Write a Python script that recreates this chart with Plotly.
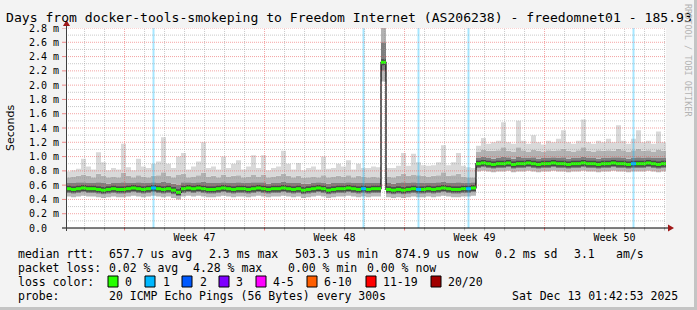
import plotly.graph_objects as go
import pandas as pd

# ---------------- data ----------------
TITLE = "Days from docker-tools-smokeping to Freedom Internet (AS206238) - freedomnet01 - 185.93"
START = "2025-11-13 01:42:53"
END = "2025-12-13 01:42:53"
STEP_HOURS = 6

median_ms = [
    0.55, 0.54, 0.55, 0.56, 0.55, 0.55, 0.54, 0.53, 0.54, 0.55,
    0.54, 0.54, 0.55, 0.56, 0.55, 0.54, 0.55, 0.56, 0.55, 0.54,
    0.55, 0.53, 0.50, 0.55, 0.56, 0.55, 0.56, 0.55, 0.54, 0.54,
    0.55, 0.56, 0.55, 0.54, 0.55, 0.55, 0.54, 0.55, 0.56, 0.55,
    0.54, 0.55, 0.55, 0.56, 0.55, 0.54, 0.55, 0.53, 0.54, 0.55,
    0.56, 0.55, 0.53, 0.54, 0.55, 0.55, 0.56, 0.55, 0.54, 0.55,
    0.54, 0.55, 0.55, 2.32, 0.54, 0.53, 0.54, 0.53, 0.54, 0.55,
    0.54, 0.54, 0.55, 0.54, 0.55, 0.56, 0.55, 0.54, 0.54, 0.55,
    0.55, 0.56, 0.90, 0.91, 0.90, 0.89, 0.90, 0.90, 0.91, 0.89,
    0.90, 0.90, 0.91, 0.90, 0.89, 0.90, 0.90, 0.91, 0.90, 0.90,
    0.89, 0.90, 0.90, 0.91, 0.90, 0.90, 0.89, 0.90, 0.90, 0.91,
    0.90, 0.90, 0.89, 0.90, 0.90, 0.90, 0.91, 0.90, 0.89, 0.90,
]
smoke_min = [
    0.44, 0.43, 0.44, 0.45, 0.44, 0.44, 0.43, 0.42, 0.43, 0.44,
    0.43, 0.43, 0.44, 0.45, 0.44, 0.43, 0.44, 0.45, 0.44, 0.43,
    0.44, 0.42, 0.40, 0.44, 0.45, 0.44, 0.45, 0.44, 0.43, 0.43,
    0.44, 0.45, 0.44, 0.43, 0.44, 0.44, 0.43, 0.44, 0.45, 0.44,
    0.43, 0.44, 0.44, 0.45, 0.44, 0.43, 0.44, 0.42, 0.43, 0.44,
    0.45, 0.44, 0.42, 0.43, 0.44, 0.44, 0.45, 0.44, 0.43, 0.44,
    0.43, 0.44, 0.44, 2.05, 0.43, 0.42, 0.43, 0.42, 0.43, 0.44,
    0.43, 0.43, 0.44, 0.43, 0.44, 0.45, 0.44, 0.43, 0.43, 0.44,
    0.44, 0.45, 0.79, 0.80, 0.79, 0.78, 0.79, 0.79, 0.80, 0.78,
    0.79, 0.79, 0.80, 0.79, 0.78, 0.79, 0.79, 0.80, 0.79, 0.79,
    0.78, 0.79, 0.79, 0.80, 0.79, 0.79, 0.78, 0.79, 0.79, 0.80,
    0.79, 0.79, 0.78, 0.79, 0.79, 0.79, 0.80, 0.79, 0.78, 0.79,
]
smoke_lo = [
    0.49, 0.48, 0.49, 0.50, 0.49, 0.49, 0.48, 0.47, 0.48, 0.49,
    0.48, 0.48, 0.49, 0.50, 0.49, 0.48, 0.49, 0.50, 0.49, 0.48,
    0.49, 0.47, 0.45, 0.49, 0.50, 0.49, 0.50, 0.49, 0.48, 0.48,
    0.49, 0.50, 0.49, 0.48, 0.49, 0.49, 0.48, 0.49, 0.50, 0.49,
    0.48, 0.49, 0.49, 0.50, 0.49, 0.48, 0.49, 0.47, 0.48, 0.49,
    0.50, 0.49, 0.47, 0.48, 0.49, 0.49, 0.50, 0.49, 0.48, 0.49,
    0.48, 0.49, 0.49, 2.20, 0.48, 0.47, 0.48, 0.47, 0.48, 0.49,
    0.48, 0.48, 0.49, 0.48, 0.49, 0.50, 0.49, 0.48, 0.48, 0.49,
    0.49, 0.50, 0.84, 0.85, 0.84, 0.83, 0.84, 0.84, 0.85, 0.83,
    0.84, 0.84, 0.85, 0.84, 0.83, 0.84, 0.84, 0.85, 0.84, 0.84,
    0.83, 0.84, 0.84, 0.85, 0.84, 0.84, 0.83, 0.84, 0.84, 0.85,
    0.84, 0.84, 0.83, 0.84, 0.84, 0.84, 0.85, 0.84, 0.83, 0.84,
]
smoke_hi = [
    0.63, 0.63, 0.64, 0.64, 0.63, 0.63, 0.64, 0.63, 0.62, 0.63,
    0.63, 0.64, 0.63, 0.63, 0.64, 0.63, 0.63, 0.64, 0.63, 0.65,
    0.63, 0.62, 0.61, 0.64, 0.64, 0.63, 0.64, 0.65, 0.63, 0.63,
    0.63, 0.64, 0.63, 0.63, 0.64, 0.63, 0.63, 0.64, 0.64, 0.64,
    0.62, 0.63, 0.63, 0.65, 0.63, 0.63, 0.63, 0.62, 0.62, 0.63,
    0.64, 0.63, 0.62, 0.63, 0.63, 0.63, 0.64, 0.63, 0.63, 0.63,
    0.63, 0.63, 0.63, 2.60, 0.63, 0.62, 0.63, 0.64, 0.63, 0.64,
    0.63, 0.63, 0.63, 0.63, 0.64, 0.65, 0.63, 0.63, 0.64, 0.63,
    0.63, 0.64, 0.98, 1.00, 0.98, 0.97, 0.98, 1.00, 0.99, 0.97,
    1.00, 0.98, 0.98, 0.99, 0.97, 0.98, 0.98, 0.99, 0.98, 0.99,
    0.97, 0.98, 0.98, 1.00, 0.98, 0.98, 0.97, 0.98, 0.98, 0.99,
    0.99, 0.98, 0.97, 0.98, 0.99, 0.98, 0.99, 0.98, 0.98, 0.98,
]
smoke_p90 = [
    0.71, 0.72, 0.73, 0.75, 0.73, 0.71, 0.76, 0.73, 0.71, 0.72,
    0.71, 0.77, 0.73, 0.71, 0.74, 0.72, 0.71, 0.73, 0.74, 0.78,
    0.73, 0.71, 0.75, 0.76, 0.71, 0.72, 0.74, 0.77, 0.72, 0.73,
    0.71, 0.75, 0.72, 0.73, 0.74, 0.71, 0.72, 0.75, 0.72, 0.75,
    0.71, 0.72, 0.73, 0.76, 0.73, 0.71, 0.73, 0.70, 0.71, 0.72,
    0.71, 0.74, 0.71, 0.72, 0.73, 0.72, 0.74, 0.71, 0.73, 0.72,
    0.71, 0.72, 0.71, 2.90, 0.72, 0.71, 0.73, 0.76, 0.73, 0.75,
    0.74, 0.73, 0.72, 0.73, 0.74, 0.78, 0.73, 0.74, 0.76, 0.72,
    0.71, 0.71, 1.07, 1.10, 1.08, 1.08, 1.09, 1.13, 1.08, 1.07,
    1.13, 1.09, 1.07, 1.10, 1.08, 1.07, 1.09, 1.08, 1.09, 1.11,
    1.08, 1.07, 1.09, 1.13, 1.08, 1.07, 1.09, 1.08, 1.09, 1.08,
    1.11, 1.09, 1.07, 1.09, 1.11, 1.08, 1.09, 1.07, 1.10, 1.08,
]
smoke_max = [
    0.79, 0.81, 0.83, 0.97, 0.86, 0.82, 1.06, 0.92, 0.81, 0.84,
    0.82, 1.18, 0.85, 0.81, 0.97, 0.86, 0.84, 0.90, 0.93, 1.27,
    0.90, 0.84, 1.00, 1.05, 0.82, 0.86, 0.93, 1.20, 0.84, 0.86,
    0.82, 1.00, 0.84, 0.90, 0.95, 0.82, 0.86, 1.02, 0.84, 1.02,
    0.81, 0.84, 0.86, 1.08, 0.90, 0.82, 0.91, 0.81, 0.84, 0.86,
    0.82, 1.00, 0.83, 0.84, 0.90, 0.86, 0.95, 0.82, 0.90, 0.84,
    0.84, 0.86, 0.85, 3.20, 0.84, 0.84, 0.87, 1.05, 0.87, 1.04,
    0.92, 0.88, 0.87, 0.88, 0.92, 1.16, 0.88, 0.92, 1.05, 0.87,
    0.85, 0.84, 1.15, 1.26, 1.18, 1.20, 1.22, 1.48, 1.20, 1.18,
    1.50, 1.22, 1.18, 1.30, 1.20, 1.17, 1.22, 1.20, 1.25, 1.37,
    1.20, 1.18, 1.22, 1.52, 1.20, 1.18, 1.22, 1.20, 1.25, 1.20,
    1.44, 1.22, 1.18, 1.25, 1.37, 1.20, 1.22, 1.18, 1.35, 1.20,
]
loss_samples = [17, 59, 70, 80, 113]
loss_counts = [1, 1, 1, 1, 1]

week_label_times = ["2025-11-19 12:00", "2025-11-26 12:00", "2025-12-03 12:00", "2025-12-10 12:00"]
week_labels = ["Week 47", "Week 48", "Week 49", "Week 50"]
week_starts = ["2025-11-16", "2025-11-23", "2025-11-30", "2025-12-07"]
y_tick_vals = [0.0, 0.2, 0.4, 0.6, 0.8, 1.0, 1.2, 1.4, 1.6, 1.8, 2.0, 2.2, 2.4, 2.6, 2.8]
y_tick_text = ["0.0\u00a0\u00a0"] + ["%.1f m" % v for v in y_tick_vals[1:]]

loss_legend_labels = ["0", "1", "2", "3", "4-5", "6-10", "11-19", "20/20"]
loss_legend_colors = ["#26ff00", "#00b8ff", "#0059ff", "#7e00ff", "#ff00ff", "#ff5e00", "#ff0000", "#a10000"]
loss_color_of_count = {0: "#26ff00", 1: "#00b8ff", 2: "#0059ff", 3: "#7e00ff"}

stats_rtt = [("median rtt:", 16), ("657.7 us avg", 107), ("2.3 ms max", 207), ("503.3 us min", 293),
             ("874.9 us now", 393), ("0.2 ms sd", 493), ("3.1", 572), ("am/s", 614)]
stats_loss = [("packet loss:", 16), ("0.02 % avg", 107), ("4.28 % max", 191), ("0.00 % min", 286),
              ("0.00 % now", 365)]
probe_line = [("probe:", 16), ("20 ICMP Echo Pings (56 Bytes) every 300s", 107)]
DATE_TEXT = "Sat Dec 13 01:42:53 2025"

# ---------------- geometry helpers (pixel -> paper) ----------------
W, H = 697, 310
L, R, T, B = 66, 666, 28, 228


def px(x):
    return (x - L) / (R - L)


def py(y):
    return (B - y) / (B - T)


MONO = "DejaVu Sans Mono"

n = len(median_ms)
start = pd.Timestamp(START)
end = pd.Timestamp(END)
t = [start + pd.Timedelta(hours=STEP_HOURS * i) for i in range(n + 1)]

fig = go.Figure()


def step_trace(vals, fill, color):
    fig.add_trace(go.Scatter(
        x=t, y=list(vals) + [vals[-1]], mode="lines", line=dict(shape="hv", width=0, color=color),
        fill=fill, fillcolor=color, hoverinfo="skip", showlegend=False))


step_trace(smoke_min, None, "rgba(0,0,0,0)")
step_trace(smoke_lo, "tonexty", "#b9b9b9")
step_trace(smoke_hi, "tonexty", "#7e7e7e")
step_trace(smoke_p90, "tonexty", "#b2b2b2")
step_trace(smoke_max, "tonexty", "#d9d9d9")

# black median step line (shows vertical jumps)
fig.add_trace(go.Scatter(x=t, y=median_ms + [median_ms[-1]], mode="lines",
                         line=dict(shape="hv", width=1.2, color="#000000"),
                         hoverinfo="skip", showlegend=False))


def segments(idxs):
    xs, ys = [], []
    for i in idxs:
        xs += [t[i], t[i + 1], None]
        ys += [median_ms[i], median_ms[i], None]
    return xs, ys


# dark core around median
xs, ys = segments(range(n))
fig.add_trace(go.Scatter(x=xs, y=ys, mode="lines", line=dict(width=6, color="#474747"),
                         hoverinfo="skip", showlegend=False))

loss_of = {i: c for i, c in zip(loss_samples, loss_counts)}
groups = {}
for i in range(n):
    groups.setdefault(loss_color_of_count.get(loss_of.get(i, 0), "#ff0000"), []).append(i)
for col, idxs in groups.items():
    xs, ys = segments(idxs)
    fig.add_trace(go.Scatter(x=xs, y=ys, mode="lines", line=dict(width=3, color=col),
                             hoverinfo="skip", showlegend=False))

# loss bars (full height)
lx, ly = [], []
for i in loss_samples:
    mid = t[i] + pd.Timedelta(hours=STEP_HOURS / 2)
    lx += [mid, mid, None]
    ly += [0, y_tick_vals[-1], None]
fig.add_trace(go.Scatter(x=lx, y=ly, mode="lines", line=dict(width=2, color="rgba(0,184,255,0.35)"),
                         hoverinfo="skip", showlegend=False))

shapes = []
# vertical grid: days (gray) and week starts (red), drawn above data
d = pd.Timestamp(start.normalize()) + pd.Timedelta(days=1)
while d < end:
    is_week = d.strftime("%Y-%m-%d") in week_starts
    shapes.append(dict(type="line", xref="x", yref="paper", x0=d, x1=d, y0=0, y1=1, layer="above",
                       line=dict(width=1, dash="1px,1px",
                                 color="rgba(235,90,90,0.55)" if is_week else "rgba(150,150,150,0.5)")))
    shapes.append(dict(type="line", xref="x", yref="paper", x0=d, x1=d, y0=py(228), y1=py(230.5),
                       layer="above",
                       line=dict(width=1, color="rgba(235,90,90,0.8)" if is_week else "rgba(150,150,150,0.7)")))
    d += pd.Timedelta(days=1)
# horizontal grid
for k in range(1, 29):
    v = k / 10
    major = k % 2 == 0
    shapes.append(dict(type="line", xref="paper", yref="y", x0=0, x1=1, y0=v, y1=v, layer="above",
                       line=dict(width=1, dash="1px,1px",
                                 color="rgba(235,90,90,0.55)" if major else "rgba(150,150,150,0.5)")))
    if major:
        shapes.append(dict(type="line", xref="paper", yref="y", x0=px(62), x1=px(66), y0=v, y1=v,
                           layer="above", line=dict(width=1, color="rgba(235,90,90,0.7)")))

# axes lines and arrows
shapes.append(dict(type="line", xref="paper", yref="paper", x0=px(62), x1=px(670), y0=0, y1=0,
                   layer="above", line=dict(width=1, color="#000000")))
shapes.append(dict(type="line", xref="paper", yref="paper", x0=px(66.5), x1=px(66.5), y0=py(231), y1=py(23),
                   layer="above", line=dict(width=1, color="#404040")))
shapes.append(dict(type="path", xref="paper", yref="paper",
                   path="M %f %f L %f %f L %f %f Z" % (px(668), py(224.5), px(674), py(228), px(668), py(231.5)),
                   fillcolor="#a01818", line=dict(width=0), layer="above"))
shapes.append(dict(type="path", xref="paper", yref="paper",
                   path="M %f %f L %f %f L %f %f Z" % (px(63), py(26), px(66.5), py(20), px(70), py(26)),
                   fillcolor="#a01818", line=dict(width=0), layer="above"))

# legend colour boxes
box_x = [108, 145, 182, 219, 256, 307, 366, 431]
lbl_x = [123, 161, 198, 234, 271, 322, 381, 446]
for bx, col in zip(box_x, loss_legend_colors):
    shapes.append(dict(type="rect", xref="paper", yref="paper", x0=px(bx), x1=px(bx + 10),
                       y0=py(287), y1=py(276), fillcolor=col, line=dict(width=1, color="#000000")))

# image border shading
shapes.append(dict(type="rect", xref="paper", yref="paper", x0=px(694), x1=px(697), y0=py(0), y1=py(310),
                   fillcolor="#c4c4c4", line=dict(width=0), layer="below"))
shapes.append(dict(type="rect", xref="paper", yref="paper", x0=px(0), x1=px(697), y0=py(307), y1=py(310),
                   fillcolor="#c4c4c4", line=dict(width=0), layer="below"))

annotations = []


def ann(x, y, text, size=11.5, color="#000000", anchor="left", family=MONO, angle=0):
    annotations.append(dict(x=px(x), y=py(y), xref="paper", yref="paper", text=text, showarrow=False,
                            xanchor=anchor, yanchor="middle", textangle=angle,
                            font=dict(family=family, size=size, color=color)))


ann(4, 17.5, TITLE, size=13.1)
for txt, x in stats_rtt:
    ann(x, 254, txt)
for txt, x in stats_loss:
    ann(x, 268, txt)
ann(16, 282, "loss color:")
for x, lab in zip(lbl_x, loss_legend_labels):
    ann(x, 282, lab)
for txt, x in probe_line:
    ann(x, 296, txt)
ann(680, 296, DATE_TEXT, anchor="right")
ann(10, 128, "Seconds", size=11, family="DejaVu Sans", angle=-90, anchor="center")
ann(688, 60, "RRDTOOL / TOBI OETIKER", size=8.5, color="#b4b4b4", angle=90, anchor="center")

fig.update_layout(
    width=W, height=H, margin=dict(l=L, r=W - R, t=T, b=H - B),
    paper_bgcolor="#f3f3f3", plot_bgcolor="#ffffff",
    showlegend=False, shapes=shapes, annotations=annotations,
    xaxis=dict(type="date", range=[start, end], showgrid=False, zeroline=False, showline=False,
               tickmode="array", tickvals=week_label_times, ticktext=week_labels, ticks="",
               ticklabelstandoff=2,
               tickfont=dict(family=MONO, size=10, color="#000000")),
    yaxis=dict(range=[0, y_tick_vals[-1]], showgrid=False, zeroline=False, showline=False,
               tickmode="array", tickvals=y_tick_vals, ticktext=y_tick_text, ticks="",
               ticklabelstandoff=6,
               tickfont=dict(family=MONO, size=10, color="#000000")),
)

fig.write_html("out.html")
